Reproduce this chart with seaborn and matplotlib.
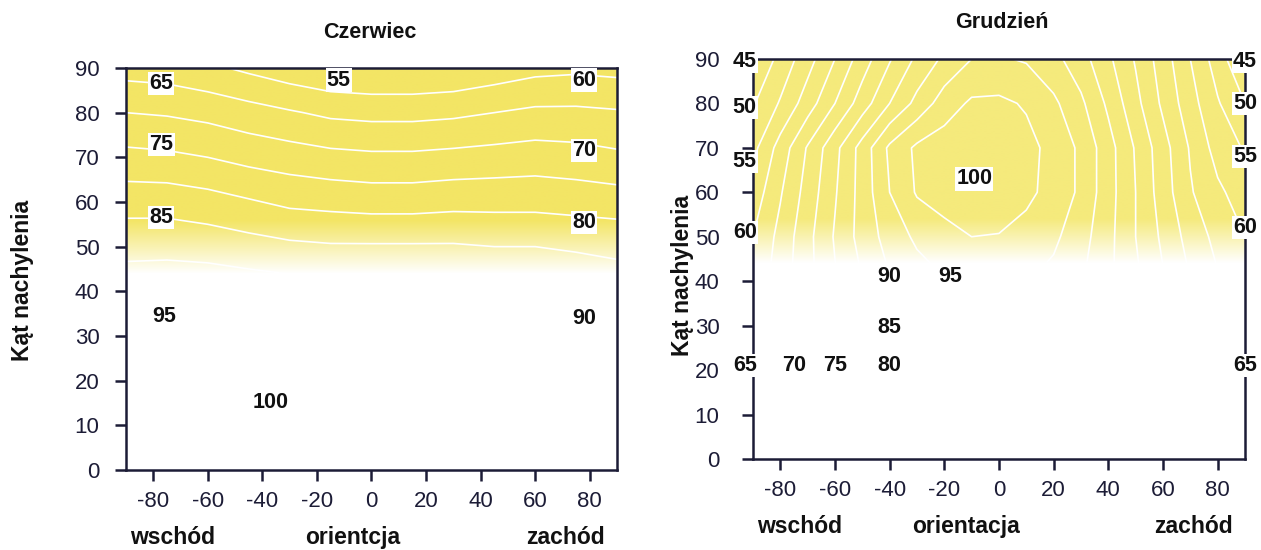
import numpy as np
import matplotlib
matplotlib.use("Agg")
import matplotlib.pyplot as plt
import matplotlib.transforms as mtransforms
from matplotlib.colors import LinearSegmentedColormap, Normalize
import seaborn as sns

# orientation (azimuth, deg) and tilt angle (deg) of the grids
june_azimuth = [-90, -75, -60, -45, -30, -15, 0, 15, 30, 45, 60, 75, 90]
december_azimuth = list(range(-90, 91, 10))
tilt = [0, 10, 20, 30, 40, 50, 60, 70, 80, 90]

# relative irradiation [%], one row per tilt
june = [
    [95, 95, 95, 95, 95, 95, 95, 95, 95, 95, 95, 95, 95],
    [96.5, 98, 99, 99.5, 99.5, 99, 98.5, 97.5, 96.5, 95, 94, 93, 92.5],
    [96.5, 98.5, 99.5, 100, 100, 99.5, 99, 98, 96.5, 95, 93.5, 92.5, 92],
    [95.5, 97, 97.5, 97.5, 97.5, 97, 96.5, 95.5, 94.5, 93.5, 92.5, 92, 91.5],
    [93, 93.5, 93.5, 93, 92.5, 92, 91.5, 91, 90.5, 90, 89.5, 88.5, 87.5],
    [88.5, 88.5, 88, 87, 86, 85.5, 85.5, 85.5, 85.5, 85, 85, 84.5, 84],
    [83, 83, 82, 80.5, 79, 78.5, 78, 78, 78.5, 78.5, 78.5, 78, 77.5],
    [76.5, 76, 75, 73.5, 72.5, 71.5, 71, 71, 71.5, 72, 72.5, 72, 71],
    [70, 69.5, 68.5, 67, 65.5, 64, 63.5, 63.5, 64, 65, 66, 66, 65.5],
    [63, 62.5, 61, 59, 57, 55.5, 55, 55, 55.5, 57, 58.5, 59, 58.5],
]

december = [
    [67, 67, 67, 67, 67, 67, 67, 67, 67, 67, 67, 67, 67, 67, 67, 67, 67, 67, 67],
    [66, 67.5, 69.5, 71, 72.5, 74, 75.5, 76.5, 77, 77.5, 77, 76.5, 75.5, 74, 72.5, 71, 69.5, 67.5, 66],
    [65, 68.5, 71.5, 75, 77.8, 80, 82, 83.5, 84.5, 84.8, 84.5, 83.5, 82, 80, 77.5, 74.5, 71, 68, 65],
    [63, 67.5, 72, 76.5, 81, 85, 87.5, 89, 90, 90, 89.5, 88.5, 86.5, 83, 79, 75, 71, 67, 63],
    [61.5, 67.5, 73.5, 79.5, 85, 89.7, 92.5, 94.7, 96, 96, 95.3, 93.5, 90.5, 86, 81, 75.5, 70, 65.5, 61.5],
    [60, 66.5, 73.5, 80.5, 87, 92, 96, 98.5, 100, 99.8, 98.5, 96, 92, 86.5, 80, 74, 68, 63.5, 60],
    [57, 64.5, 72, 79.5, 87, 95, 100.5, 102, 102.5, 102.5, 101, 98.5, 94, 87, 80, 72.5, 65.5, 61, 57.5],
    [53.5, 62, 70.5, 78.5, 87, 96, 101, 102.5, 103, 102.5, 101.5, 98.5, 94, 87, 79.5, 72, 64.5, 58, 54.5],
    [49.5, 55.5, 62.5, 70, 77.5, 85, 91.5, 97.5, 100.8, 101, 99.5, 96, 91, 84, 76.5, 69, 62, 55.5, 50],
    [45, 51.5, 58, 65, 72.5, 79.5, 86, 91, 95, 95.5, 94.5, 91.5, 87, 81, 74.5, 67.5, 60, 52.5, 45],
]

june_levels = list(range(55, 101, 5))
december_levels = list(range(45, 101, 5))

# contour labels (values) and where they sit on the chart
june_labels = [65, 55, 60, 75, 70, 85, 80, 95, 90, 100]
june_label_pos = [(-77, 86.6), (-12, 87.3), (78, 87.3), (-77, 72.8), (78, 71.6),
                  (-77, 56.6), (78, 55.5), (-76, 34.3), (78, 34), (-37, 15)]
december_labels = [45, 50, 55, 60, 65, 45, 50, 55, 60, 65, 70, 75, 80, 85, 90, 95, 100]
december_label_pos = [(-93, 89.5), (-93, 79), (-93, 67), (-93, 51), (-93, 21),
                      (90, 89.5), (90, 80), (90, 68), (90, 52), (90, 21),
                      (-75, 21), (-60, 21), (-40, 21), (-40, 29.5), (-40, 41),
                      (-18, 41), (-9, 63)]

sns.set_theme(style="white")
plt.rcParams["font.family"] = ["Liberation Sans", "DejaVu Sans"]
plt.rcParams["axes.unicode_minus"] = False

INK = "#1c1c36"
TXT = "#111111"


def draw(ax, az, values, levels, labels, positions, fade, yellow, ypad):
    Z = np.array(values, dtype=float)
    # yellow band in the upper part of the chart
    cmap = LinearSegmentedColormap.from_list("fade", ["#ffffff", yellow])
    band = np.linspace(0, 90, 181)[:, None]
    ax.imshow(band, extent=[-90, 90, 0, 90], origin="lower", aspect="auto",
              cmap=cmap, norm=Normalize(*fade), interpolation="bilinear", zorder=0)
    ax.contour(az, tilt, Z, levels=levels, colors="white",
               linewidths=1.2, zorder=1)
    for val, (x, y) in zip(labels, positions):
        ax.text(x, y, str(val), ha="center", va="center", fontsize=15.5,
                fontweight="bold", color=TXT, zorder=6, clip_on=False,
                bbox=dict(facecolor="white", edgecolor="none", pad=0.8))
    ax.set_xlim(-90, 90)
    ax.set_ylim(0, 90)
    ax.set_xticks(range(-80, 81, 20))
    ax.set_yticks(range(0, 91, 10))
    ax.tick_params(axis="both", direction="out", length=8, width=1.8,
                   labelsize=16, colors=INK, bottom=True, left=True)
    ax.tick_params(axis="x", pad=7)
    ax.tick_params(axis="y", pad=ypad)
    for s in ax.spines.values():
        s.set_color(INK)
        s.set_linewidth(1.8)
        s.set_visible(True)


fig = plt.figure(figsize=(12.61, 5.5), dpi=100)
ax1 = fig.add_axes([0.0999, 0.1455, 0.3894, 0.7309])
ax2 = fig.add_axes([0.5971, 0.1655, 0.3902, 0.7273])

draw(ax1, june_azimuth, june, june_levels, june_labels, june_label_pos,
     (44, 56), "#f3e565", 11)
draw(ax2, december_azimuth, december, december_levels, december_labels,
     december_label_pos, (44, 54), "#f5ea7c", 16)

fig.text(370 / 1261, 1 - 33 / 550, "Czerwiec", ha="center", va="center",
         fontsize=15.5, fontweight="bold", color=TXT)
fig.text(1002 / 1261, 1 - 22 / 550, "Grudzień", ha="center", va="center",
         fontsize=15.5, fontweight="bold", color=TXT)
fig.text(23 / 1261, 1 - 280 / 550, "Kąt nachylenia", rotation=90, ha="center",
         va="center", fontsize=16.5, fontweight="bold", color=TXT)
fig.text(683 / 1261, 1 - 275 / 550, "Kąt nachylenia", rotation=90, ha="center",
         va="center", fontsize=16.5, fontweight="bold", color=TXT)

for ax, words, xs, ypos in [(ax1, ["wschód", "orientcja", "zachód"], [-73, -7, 71], -0.167),
                            (ax2, ["wschód", "orientacja", "zachód"], [-73, -12, 71], -0.17)]:
    trans = mtransforms.blended_transform_factory(ax.transData, ax.transAxes)
    for x, w in zip(xs, words):
        ax.text(x, ypos, w, transform=trans, ha="center", va="center",
                fontsize=16.5, fontweight="bold", color=TXT)

fig.savefig("out.png", dpi=100, facecolor="white")
